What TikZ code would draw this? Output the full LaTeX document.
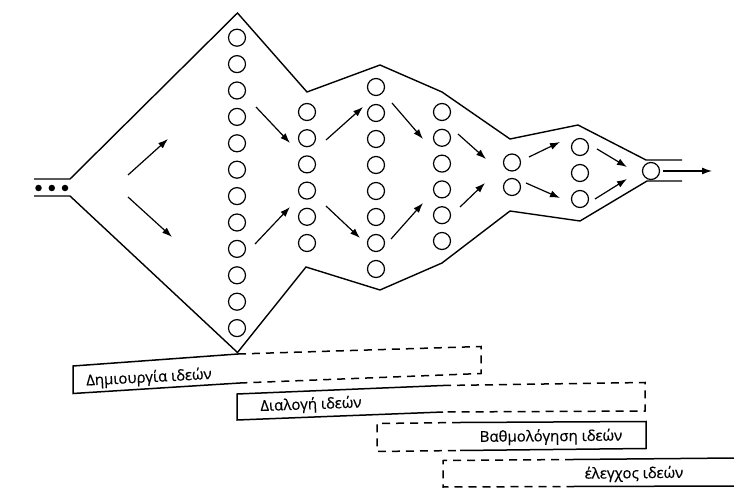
\documentclass[tikz,border=0pt]{standalone}
\usepackage{fontspec}
\setmainfont{Open Sans}
\newfontfamily\lblfont{Open Sans}[FakeBold=0.4]
\usetikzlibrary{arrows.meta}
\begin{document}
\begin{tikzpicture}[x=1pt,y=-1pt,
  circ/.style={circle,draw,line width=1.2pt,minimum size=17pt,inner sep=0pt},
  dotnode/.style={circle,fill,minimum size=6.5pt,inner sep=0pt},
  outl/.style={line width=1.4pt,line join=miter},
  flow/.style={line width=1.2pt,-{Latex[length=10pt,width=7pt]}},
  barsolid/.style={line width=1.5pt},
  bardash/.style={line width=1.5pt,dash pattern=on 8pt off 6pt},
  lbl/.style={font=\lblfont\fontsize{15}{17}\selectfont,inner sep=0pt}]
\useasboundingbox (0,0) rectangle (734,492);
\fill[white] (0,0) rectangle (734,492);
% circles
\foreach \i in {0,...,11} \node[circ] (a\i) at (237,37.7+26.4*\i) {};
\foreach \i in {0,...,5} \node[circ] (b\i) at (307,112+26.2*\i) {};
\foreach \i in {0,...,7} \node[circ] (c\i) at (376,87+26*\i) {};
\foreach \i in {0,...,5} \node[circ] (d\i) at (442,112+25.8*\i) {};
\node[circ] (e0) at (512,162.5) {};
\node[circ] (e1) at (512,187) {};
\foreach \i in {0,1,2} \node[circ] (f\i) at (580,147+26*\i) {};
\node[circ] (g) at (651,171) {};
% entry dots
\node[dotnode] (p1) at (38.5,188) {};
\node[dotnode] (p2) at (51.8,188) {};
\node[dotnode] (p3) at (65,188) {};
% outline
\draw[outl] (34,179) -- (70,179) -- (237.5,13) -- (307,92) -- (380,65) -- (442,92) -- (510,139) -- (578,125) -- (646,160) -- (682,160);
\draw[outl] (34,196) -- (70,196) -- (237.5,352.5) -- (306,267) -- (380,290) -- (442,263) -- (510,211) -- (580,221) -- (647,181) -- (682,181);
% arrows
\foreach \n/\sx/\sy/\ex/\ey in {1/128/175/168/139, 2/128/197/172/237, 3/256/107/290/143, 4/255/244/290/207,
  5/326/140/363/107, 6/326/206/360/238, 7/392/103/423/139, 8/391/239/423/203,
  9/458/134/486/159, 10/460/207/485/183, 11/529/157/560/142, 12/526/183/560/198,
  13/597/149/627/167, 14/595/199/627/179, 15/663/171/712/171}
{
  \coordinate (s\n) at (\sx,\sy);
  \coordinate (t\n) at (\ex,\ey);
  \draw[flow] (s\n) -- (t\n);
}
% bar 1
\coordinate (b1tl) at (73,366);
\coordinate (b1tm) at (238,354);
\coordinate (b1tr) at (481,346.5);
\coordinate (b1br) at (481,373.5);
\coordinate (b1bm) at (240,383);
\coordinate (b1bl) at (73,393.5);
\draw[barsolid] (b1tm) -- (b1tl) -- (b1bl) -- (b1bm);
\draw[bardash] (b1tm) -- (b1tr) -- (b1br) -- (b1bm);
% bar 2
\coordinate (b2tl) at (237,394);
\coordinate (b2tm) at (443,385.5);
\coordinate (b2tr) at (645,382.5);
\coordinate (b2br) at (645,411);
\coordinate (b2bm) at (443,412);
\coordinate (b2bl) at (237,420);
\draw[barsolid] (b2tm) -- (b2tl) -- (b2bl) -- (b2bm);
\draw[bardash] (b2tm) -- (b2tr) -- (b2br) -- (b2bm);
% bar 3
\coordinate (b3tl) at (377,423.5);
\coordinate (b3tm) at (460,422.5);
\coordinate (b3tr) at (646,421.5);
\coordinate (b3br) at (646,448.5);
\coordinate (b3bm) at (460,450.5);
\coordinate (b3bl) at (377,451.5);
\draw[bardash] (b3tm) -- (b3tl) -- (b3bl) -- (b3bm);
\draw[barsolid] (b3tm) -- (b3tr) -- (b3br) -- (b3bm);
% bar 4
\coordinate (b4tl) at (443,460.5);
\coordinate (b4tm) at (573,459.5);
\coordinate (b4tr) at (734,458);
\coordinate (b4bl) at (443,487);
\coordinate (b4bm) at (573,486.5);
\coordinate (b4br) at (734,486);
\draw[bardash] (b4tm) -- (b4tl) -- (b4bl) -- (b4bm);
\draw[barsolid] (b4tm) -- (b4tr);
\draw[barsolid] (b4bm) -- (b4br);
% labels
\node[lbl,rotate=3] (l1) at (149,378) {Δημιουργία ιδεών};
\node[lbl,rotate=2] (l2) at (311,405) {Διαλογή ιδεών};
\node[lbl,rotate=0.5] (l3) at (551,437) {Βαθμολόγηση ιδεών};
\node[lbl,rotate=0.5] (l4) at (634,474) {έλεγχος ιδεών};
\end{tikzpicture}
\end{document}
